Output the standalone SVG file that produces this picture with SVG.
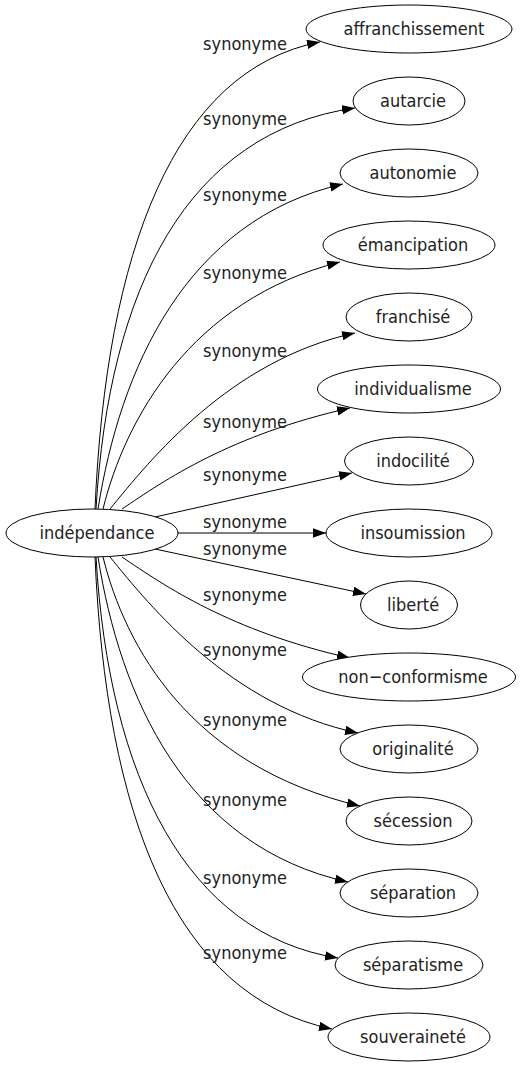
<svg xmlns="http://www.w3.org/2000/svg" width="521" height="1067" viewBox="0 0 521 1067">
<style>
text{font-family:"DejaVu Sans Condensed","DejaVu Sans",sans-serif;font-stretch:condensed;font-size:18px;fill:#222;}
.n text{text-anchor:middle;}
.n ellipse{fill:#fff;stroke:#000;stroke-width:1;}
.e path{fill:none;stroke:#000;stroke-width:1;marker-end:url(#a);}
.l text{text-anchor:middle;}
</style>
<defs>
<marker id="a" markerUnits="userSpaceOnUse" markerWidth="14" markerHeight="10" refX="13" refY="4.7" orient="auto">
<path d="M0,0 L13,4.7 L0,9.4 z" fill="#000"/>
</marker>
</defs>
<g id="edges" class="e">
<path d="M95,509 C106,252 174,70 320,42"/>
<path d="M96,509 C109,288 187,132 355,108"/>
<path d="M98,509 C120,370 185,220 343,184"/>
<path d="M103,509 C125,420 190,300 340,262"/>
<path d="M110,509 C150,460 230,360 355,333"/>
<path d="M122,509 C165,480 230,435 350,408"/>
<path d="M155,517 L352,473"/>
<path d="M178,533 L326,533"/>
<path d="M155,549 L366,594"/>
<path d="M122,557 C165,586 230,631 350,658"/>
<path d="M110,557 C150,606 230,706 358,733"/>
<path d="M103,557 C125,646 190,766 360,806"/>
<path d="M98,557 C120,696 185,846 348,882"/>
<path d="M96,557 C109,778 187,934 338,958"/>
<path d="M95,557 C106,814 174,996 332,1029"/>
</g>
<g id="labels" class="l">
<text x="245" y="50">synonyme</text>
<text x="245" y="125">synonyme</text>
<text x="245" y="201">synonyme</text>
<text x="245" y="279">synonyme</text>
<text x="245" y="357">synonyme</text>
<text x="245" y="428">synonyme</text>
<text x="245" y="481">synonyme</text>
<text x="245" y="528">synonyme</text>
<text x="245" y="555">synonyme</text>
<text x="245" y="601">synonyme</text>
<text x="245" y="656">synonyme</text>
<text x="245" y="726">synonyme</text>
<text x="245" y="806">synonyme</text>
<text x="245" y="884">synonyme</text>
<text x="245" y="959">synonyme</text>
</g>
<g id="n0" class="n"><ellipse cx="92" cy="533" rx="86" ry="24"/><text x="97" y="539">indépendance</text></g>
<g id="n1" class="n"><ellipse cx="409" cy="29" rx="103" ry="24"/><text x="414" y="35">affranchissement</text></g>
<g id="n2" class="n"><ellipse cx="409" cy="101" rx="56" ry="24"/><text x="413" y="107">autarcie</text></g>
<g id="n3" class="n"><ellipse cx="409" cy="173" rx="69" ry="24"/><text x="413" y="179">autonomie</text></g>
<g id="n4" class="n"><ellipse cx="409" cy="245" rx="86" ry="24"/><text x="413" y="251">émancipation</text></g>
<g id="n5" class="n"><ellipse cx="409" cy="317" rx="63" ry="24"/><text x="413" y="323">franchisé</text></g>
<g id="n6" class="n"><ellipse cx="409" cy="389" rx="91.5" ry="24"/><text x="413" y="395">individualisme</text></g>
<g id="n7" class="n"><ellipse cx="409" cy="461" rx="64.5" ry="24"/><text x="413" y="467">indocilité</text></g>
<g id="n8" class="n"><ellipse cx="409" cy="533" rx="83" ry="24"/><text x="413" y="539">insoumission</text></g>
<g id="n9" class="n"><ellipse cx="409" cy="605" rx="48.5" ry="24"/><text x="413" y="611">liberté</text></g>
<g id="n10" class="n"><ellipse cx="409" cy="677" rx="106.5" ry="24"/><text x="413" y="683">non−conformisme</text></g>
<g id="n11" class="n"><ellipse cx="409" cy="749" rx="69" ry="24"/><text x="413" y="755">originalité</text></g>
<g id="n12" class="n"><ellipse cx="409" cy="821" rx="63" ry="24"/><text x="413" y="827">sécession</text></g>
<g id="n13" class="n"><ellipse cx="409" cy="893" rx="69" ry="24"/><text x="413" y="899">séparation</text></g>
<g id="n14" class="n"><ellipse cx="409" cy="965" rx="74" ry="24"/><text x="413" y="971">séparatisme</text></g>
<g id="n15" class="n"><ellipse cx="409" cy="1037" rx="81" ry="24"/><text x="413" y="1043">souveraineté</text></g>
</svg>
